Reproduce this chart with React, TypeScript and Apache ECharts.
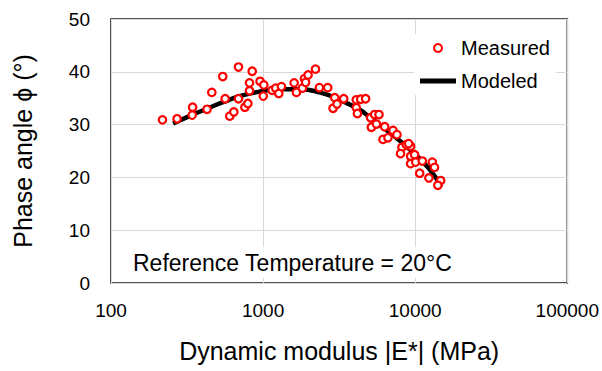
import React, { useEffect, useRef } from "react";
import * as echarts from "echarts";

const measuredE = [218, 272, 344, 342, 428, 460, 543, 563, 604, 642, 689, 689, 759, 794, 814, 814, 848, 955, 1011, 1002, 1146, 1211, 1268, 1320, 1600, 1657, 1814, 1870, 1903, 1977, 2210, 2345, 2660, 2958, 2884, 3063, 3388, 4100, 4380, 4720, 4100, 4170, 5090, 5410, 5780, 5150, 5560, 6300, 6140, 6620, 7150, 7590, 8180, 8740, 9330, 8010, 9050, 9330, 9330, 9910, 10070, 11140, 10700, 12950, 13400, 12300, 14700, 14090];
const measuredPhi = [30.9, 31.1, 33.3, 31.8, 32.9, 36.1, 39.1, 34.9, 31.6, 32.4, 40.9, 34.9, 33.3, 34.0, 37.9, 36.4, 40.1, 38.2, 37.5, 35.4, 36.5, 36.9, 35.9, 37.2, 37.9, 36.1, 36.9, 38.7, 38.0, 39.4, 40.5, 37.0, 37.0, 35.1, 33.1, 33.9, 34.9, 34.7, 34.8, 34.9, 33.2, 32.1, 31.3, 31.9, 31.9, 29.5, 30.1, 29.6, 27.2, 27.5, 28.9, 28.1, 25.7, 26.2, 25.9, 24.5, 26.4, 24.0, 22.6, 24.3, 22.9, 23.1, 20.8, 22.9, 21.9, 19.9, 19.4, 18.5];

const modeledE = [256, 339, 435, 561, 721, 977, 1290, 1740, 2355, 3190, 4320, 5020, 6790, 9190, 12400, 14800];
const modeledPhi = [30.2, 31.8, 33.1, 34.4, 35.5, 36.3, 36.7, 36.7, 36.1, 34.7, 32.8, 31.4, 28.5, 25.3, 21.6, 18.2];

const xTicks = [100, 1000, 10000, 100000];
const FONT = "'Liberation Sans', Arial, sans-serif";

export default function App() {
  const ref = useRef<HTMLDivElement>(null);
  useEffect(() => {
    if (!ref.current) return;
    const chart = echarts.init(ref.current, null, { renderer: "svg" });
    chart.setOption({
      animation: false,
      backgroundColor: "#fff",
      textStyle: { fontFamily: FONT },
      grid: {
        left: 111,
        right: 34,
        top: 19,
        bottom: 88,
        show: true,
        borderColor: "#1a1a1a",
        borderWidth: 1.5,
        backgroundColor: "transparent",
      },
      legend: {
        orient: "vertical",
        left: 414,
        top: 34,
        padding: [4, 6, 4, 6],
        itemWidth: 36,
        itemHeight: 8,
        itemGap: 13,
        backgroundColor: "#fff",
        textStyle: { fontSize: 20, color: "#000", fontFamily: FONT },
        data: [
          { name: "Measured" },
          { name: "Modeled", icon: "path://M0,1.6 L36,1.6 L36,6.4 L0,6.4 Z" },
        ],
      },
      xAxis: {
        type: "log",
        logBase: 10,
        min: xTicks[0],
        max: xTicks[xTicks.length - 1],
        name: "Dynamic modulus |E*| (MPa)",
        nameLocation: "middle",
        nameGap: 55,
        nameTextStyle: { fontSize: 25, color: "#000", fontFamily: FONT },
        axisLine: { show: false },
        axisTick: { show: false },
        axisLabel: {
          fontSize: 19,
          color: "#000",
          margin: 18,
          fontFamily: FONT,
          formatter: (v: number) => String(Math.round(v)),
        },
        splitLine: { show: true, lineStyle: { color: "#d9d9d9", width: 1 } },
      },
      yAxis: {
        type: "value",
        min: 0,
        max: 50,
        interval: 10,
        name: "Phase angle \u03d5 (\u00b0)",
        nameLocation: "middle",
        nameGap: 76,
        nameTextStyle: { fontSize: 25, color: "#000", fontFamily: FONT },
        axisLine: { show: false },
        axisTick: { show: false },
        axisLabel: { fontSize: 19, color: "#000", margin: 21, fontFamily: FONT },
        splitLine: { show: true, lineStyle: { color: "#d9d9d9", width: 1 } },
      },
      graphic: [
        {
          type: "text",
          left: 128,
          top: 247,
          z: 10,
          style: {
            text: "Reference Temperature = 20\u00b0C",
            fontSize: 23,
            fontFamily: FONT,
            fill: "#000",
            backgroundColor: "#fff",
            padding: [4, 5, 4, 5],
          },
        },
      ],
      series: [
        {
          name: "Modeled",
          type: "line",
          smooth: true,
          symbol: "none",
          z: 2,
          lineStyle: { color: "#000", width: 4.5 },
          itemStyle: { color: "#000" },
          data: modeledE.map((e, i) => [e, modeledPhi[i]]),
        },
        {
          name: "Measured",
          type: "scatter",
          symbol: "circle",
          symbolSize: 7.5,
          z: 3,
          itemStyle: { color: "#fff", borderColor: "#ff0000", borderWidth: 2.2, opacity: 1 },
          data: measuredE.map((e, i) => [e, measuredPhi[i]]),
        },
      ],
    });
    return () => chart.dispose();
  }, []);
  return (
    <div
      ref={ref}
      style={{ position: "fixed", left: 0, top: 0, width: 602, height: 371 }}
    />
  );
}
